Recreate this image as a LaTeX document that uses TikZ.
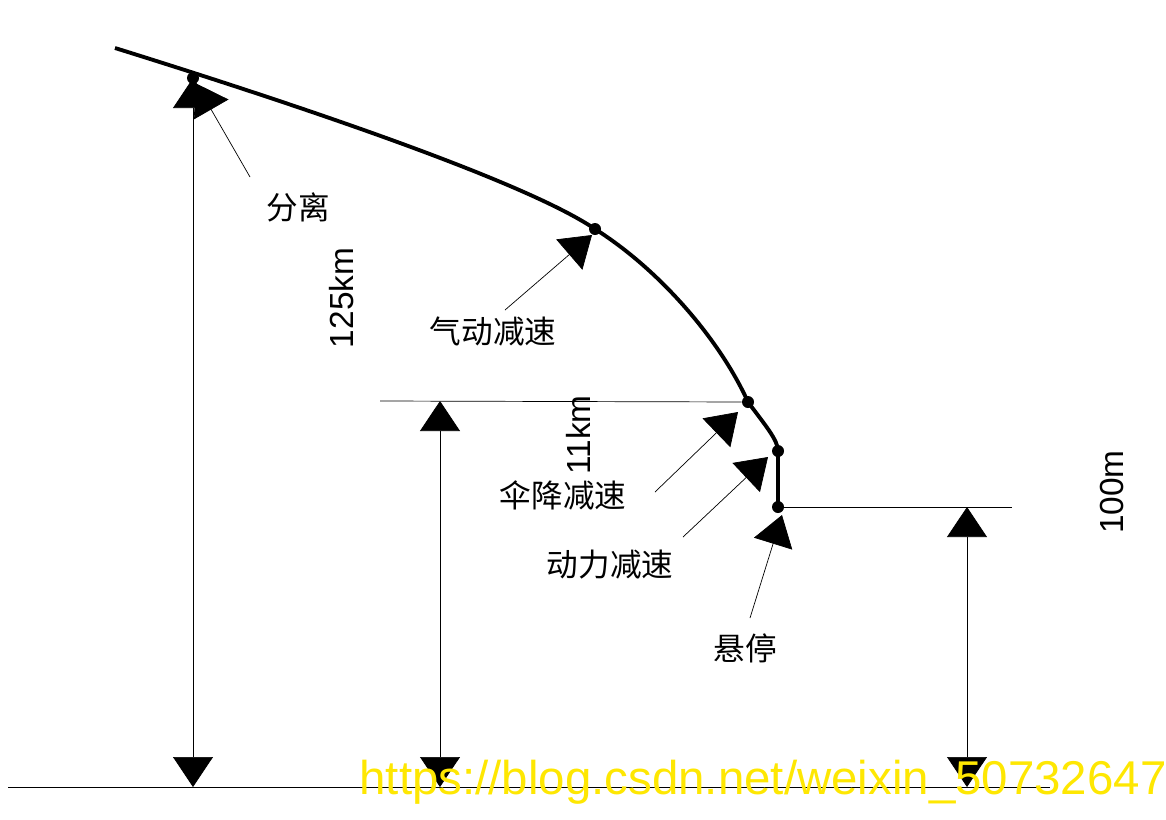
\documentclass[tikz,border=0pt]{standalone}
\usepackage{fontspec}
\setmainfont{Liberation Sans}
\newfontfamily\cjk{Noto Sans CJK SC}
\usepackage{tikz}
\usetikzlibrary{calc,arrows.meta}

\tikzset{
  bigtip/.style = {-{Triangle[width=0.8cm,length=0.6cm]}},
  dimline/.style = {thin, {Triangle[width=0.8cm,length=0.6cm]}-{Triangle[width=0.8cm,length=0.6cm]}},
  lbl/.style = {font=\cjk\fontsize{18}{20}\selectfont, inner sep=1pt},
  dot/.style = {circle, fill, inner sep=0pt, minimum size=0.24cm}
}

\begin{document}
\begin{tikzpicture}[x=0.02cm,y=-0.02cm]
  \useasboundingbox (0,0) rectangle (1166,819);

  % points on the path
  \coordinate (start) at (115,48);
  \node[dot] (sep) at (193,78) {};
  \node[dot] (aero) at (595,229) {};
  \node[dot] (chute) at (748,402) {};
  \node[dot] (power) at (778,451) {};
  \node[dot] (hover) at (778,507) {};

  \draw[line width=2.2pt] (start) .. controls (330,115) and (530,185) .. (aero.center)
    .. controls (660,270) and (720,340) .. (chute.center)
    .. controls (765,425) and (778,440) .. (power.center) -- (hover.center);

  % levels
  \draw[thin] (8,787) -- (1050,787);
  \draw[thin] (380,401) -- (chute);
  \draw[thin] (hover) -- (1012,507);

  % heights
  \draw[dimline] (193,787) -- (sep.center);
  \draw[dimline] (440,787) -- (440,401);
  \draw[dimline] (967,787) -- (967,507);

  % labels
  \node[lbl] (l1) at (298,207) {分离};
  \node[lbl] (l2) at (493,332) {气动减速};
  \node[lbl] (l3) at (563,495) {伞降减速};
  \node[lbl] (l4) at (610,565) {动力减速};
  \node[lbl] (l5) at (745,648) {悬停};

  \draw[thin,bigtip] (250,177) -- (sep);
  \draw[thin,bigtip] (505,310) -- (592,235);
  \draw[thin,bigtip] (655,492) -- (738,412);
  \draw[thin,bigtip] (683,537) -- (768,457);
  \draw[thin,bigtip] (750,618) -- (782,515);

  \node[lbl,rotate=90,font=\fontsize{19}{21}\selectfont] (h1) at (342,298) {125km};
  \node[lbl,rotate=90,font=\fontsize{19}{21}\selectfont] (h2) at (578,435) {11km};
  \node[lbl,rotate=90,font=\fontsize{19}{21}\selectfont] (h3) at (1112,492) {100m};

  \node[font=\fontsize{27}{30}\selectfont, text=yellow!90!orange, inner sep=0pt] (wm) at (763,782) {https://blog.csdn.net/weixin\_50732647};
\end{tikzpicture}
\end{document}
